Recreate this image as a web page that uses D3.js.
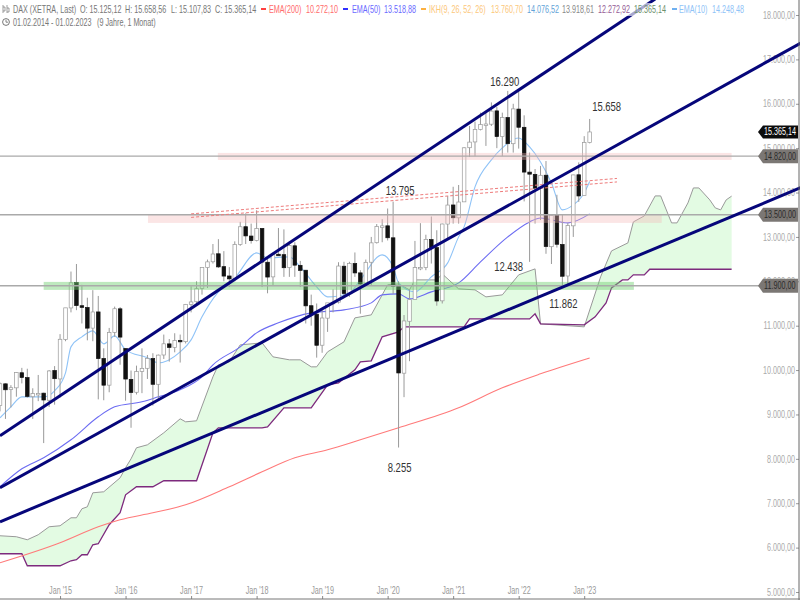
<!DOCTYPE html>
<html>
<head>
<meta charset="utf-8">
<script src="https://cdn.jsdelivr.net/npm/d3@7"></script>
<style>
html, body { margin: 0; padding: 0; background: #fff; }
svg { display: block; }
text { font-family: "Liberation Sans", Arial, sans-serif; }
</style>
</head>
<body>
<div class="interactive"></div>
<script>
var width = 800;
var height = 600;

// monthly candles, index 0 = Feb 2014
var opens = [9200,9690,9560,9600,9940,9830,9400,9470,9480,9320,9990,9800,
  10690,11400,11970,11450,11410,10945,11310,10260,9660,10850,11380,10485,
  9790,9500,9970,10040,10260,9680,10340,10590,10510,10670,10640,11480,
  11540,11840,12310,12440,12620,12330,12120,12060,12830,13230,13020,12920,
  13190,12430,12100,12610,12600,12310,12800,12360,12250,11450,11260,10560,
  11170,11520,11530,12340,11730,12400,12190,11940,12430,12870,13240,13250,
  12980,11900,9930,11100,11590,12310,12310,12940,12760,11560,13290,13720,
  13430,13790,15010,15140,15420,15530,15540,15840,15260,15690,15100,15880,
  15470,14460,14410,14100,14390,12780,13480,12830,12120,13250,14400,13930,15125];
var highs = [9720,9700,9660,9950,10050,10030,9590,9890,9490,10000,10090,10810,
  11400,12220,12390,11920,11630,11800,11670,10490,10950,11430,11420,10485,
  9990,10100,10490,10340,10380,10350,10800,10700,10830,10800,11490,11890,
  12000,12310,12490,12840,12950,12680,12320,12900,13340,13530,13300,13600,
  13200,12530,12650,13200,13170,12900,12880,12460,12250,11700,11500,11370,
  11500,11820,12430,12440,12440,12650,12250,12490,13000,13290,13400,13640,
  13795,12000,11240,11800,12910,13310,13050,13460,13150,13300,13920,14130,
  14170,15020,15500,15600,15800,15810,16030,15930,15800,16290,16000,16285,
  15740,14900,14530,14600,14710,13490,13950,13500,13310,14400,14680,15270,15658];
var lows = [9070,8900,9160,9400,9700,9380,8900,9300,8355,9170,9220,9380,
  10650,11300,11350,11050,10670,10650,9340,9320,9500,10750,10120,9310,
  8700,9450,9480,9800,9200,9370,10250,10190,10400,10170,10600,11300,
  11450,11700,11850,12400,12300,12000,11870,12000,12800,12840,12850,12900,
  11870,11730,11900,12600,12100,12100,12100,11870,11050,11000,10280,10390,
  10860,11300,11500,11620,11650,12100,11270,11900,11900,12850,12880,12920,
  11720,8255,9390,10200,11600,12250,12250,12400,11450,11500,12950,13300,
  13300,13800,14800,14820,15400,15050,15500,15000,14820,14900,14900,14990,
  13800,12438,13300,13380,12620,12390,12760,11862,11900,13000,13790,13980,15107];
var closes = [9692,9556,9603,9943,9833,9407,9470,9474,9326,9980,9806,10694,
  11402,11966,11454,11413,10945,11309,10259,9660,10850,11382,10743,9798,
  9495,9965,10039,10262,9680,10337,10592,10511,10665,10640,11481,11535,
  11834,12312,12438,12615,12325,12118,12055,12829,13229,13023,12918,13189,
  12435,12096,12612,12604,12306,12805,12364,12247,11447,11257,10559,11173,
  11515,11526,12344,11726,12398,12189,11939,12428,12866,13236,13249,12981,
  11890,9935,11107,11586,12310,12313,12945,12760,11556,13291,13718,13432,
  13786,15008,15136,15421,15531,15544,15835,15261,15688,15100,15885,15471,
  14461,14414,14098,14388,12784,13484,12835,12114,13254,14397,13923,15128,15365];

var ema200Idx = [0,11,18,22,28,34,42,48,54,60,66,73,84,92,99,108];
var ema200Val = [5659,6109,6470,6627,6785,6965,7371,7708,8024,8204,8429,8699,9150,9600,9915,10272];

var ema50Idx = [0,4,8,13,18,21,26,29,33,37,39,44,47,51,57,63,68,70,73,75,79,84,88,93,97,99,104,108];
var ema50Val = [7371,7776,8024,8429,8947,9172,9285,9397,9555,9848,10118,10523,10839,11064,11289,11357,11514,11694,11717,11604,11762,11965,12438,13001,13338,13428,13316,13519];

var ema10Idx = [0,2,4,8,10,12,13,15,17,19,21,23,27,29,33,35,37,40,43,47,49,53,55,58,60,64,66,70,72,73,76,79,82,84,85,87,90,92,95,97,99,101,103,105,107,108];
var ema10Val = [8924,9172,9397,9397,9532,9938,10523,10749,10884,10591,10771,10456,10276,10163,10411,10681,11199,11762,12077,12640,12528,12550,12325,11875,11649,11739,12032,12595,12325,11965,11762,12100,12415,13001,13226,14127,14735,15005,15230,15027,14690,14217,13609,13721,13991,14248];

var spanAIdx = [0,3,5,7,9,11,13,14,15,16,17,19,22,23,24,25,27,30,33,34,36,39,40,42,44,48,50,53,55,57,58,60,63,65,68,71,73,75,76,80,81,84,87,89,92,95,98,99,107,110,112,115,116,118,120,121,123,124,126,127,128,130,131,132,133,134];
var spanAVal = [6267,6245,6177,6290,6470,6492,6672,6672,6875,6920,7235,7258,7573,7798,8001,8249,8316,8587,8902,8834,8857,9848,10118,10186,10568,10613,10298,10231,10231,10073,10073,10411,10636,11176,11244,11920,11942,11807,12032,12032,12167,11830,11807,11649,11694,12145,12280,11041,10974,12100,12685,12865,13338,13473,13924,13924,13316,13316,13766,14104,14104,13834,13654,13609,13834,13919];

var spanBIdx = [0,4,5,11,13,14,15,16,17,18,20,22,23,25,28,30,36,39,40,48,49,52,57,60,62,65,66,68,70,73,74,85,86,97,98,99,107,109,111,112,114,115,116,118,119,134];
var spanBVal = [5862,5862,5591,5591,5704,5727,5839,5839,6064,6087,6515,6785,7190,7371,7371,7506,7506,8587,8699,8699,8722,9150,9150,9668,9713,10005,10186,10208,10749,10861,10974,10974,11154,11154,11267,11041,11019,11199,11514,11852,12032,12032,12145,12145,12272,12272];

// trend lines: [start idx, start value, end idx, end value]
var trendLines = [
  [0, 8519, 120, 18360],
  [0, 7348, 147, 17392],
  [0, 6582, 147, 14127]
];
var channelLines = [
  [35, 13519, 113, 14318],
  [35, 13440, 113, 14239]
];
// zones: [start idx, end idx, low value, high value]
var pinkZones = [
  [39.9, 134, 14735, 14892],
  [27.1, 121.2, 13316, 13496]
];
var greenZones = [[8, 116.1, 11807, 11987]];

var levels = [14820, 13500, 11900];
var lastClose = 15365.14;

var yTicks = [5000,6000,7000,8000,9000,10000,11000,12000,13000,14000,15000,16000,17000,18000];
var xTickIdx = [11,23,35,47,59,71,83,95,107];
var xTickLabels = ["Jan '15","Jan '16","Jan '17","Jan '18","Jan '19","Jan '20","Jan '21","Jan '22","Jan '23"];

var noteIdx = [93,108,72,97,103,73];
var noteVal = [16290,15658,13795,12438,11862,8255];
var noteText = ["16.290","15.658","13.795","12.438","11.862","8.255"];
var noteDx = [-3,17,7,-21,1,1];
var noteDy = [-9,-12,-11,5,17,20];

var de = d3.formatLocale({ decimal: ",", thousands: ".", grouping: [3], currency: ["", "€"] });
var fmt = de.format(",.2f");

var svg = d3.select(".interactive")
    .append("svg")
    .attr("width", width)
    .attr("height", height);

var x = d3.scaleLinear().domain([0, 147]).range([0, 802.6]);
var y = d3.scaleLinear().domain([5000, 18000]).range([592, 15]);

var line = d3.line().x(function(d){ return x(d[0]); }).y(function(d){ return y(d[1]); });
var smooth = d3.line().curve(d3.curveMonotoneX).x(function(d){ return x(d[0]); }).y(function(d){ return y(d[1]); });

function pairs(idx, val) { return idx.map(function(d, i){ return [d, val[i]]; }); }

// the source picture is squeezed sideways, so all text gets the same squeeze
var squeeze = 0.72;
function label(parent, px, py, str, color, size, anchor, sx) {
  return parent.append("text")
    .attr("transform", "translate(" + px + "," + py + ") scale(" + (sx || squeeze) + ",1)")
    .attr("fill", color)
    .attr("font-size", size || 10)
    .attr("text-anchor", anchor || "start")
    .text(str);
}

// axis labels go first, trend lines run across them
var yAxis = svg.append("g")
    .attr("transform", "translate(796,0)")
    .call(d3.axisRight(y).tickValues(yTicks).tickSize(3).tickFormat(fmt));
yAxis.select(".domain").remove();
yAxis.selectAll("line").attr("stroke", "#999");
yAxis.selectAll("text")
    .attr("x", 0)
    .attr("text-anchor", "end")
    .attr("fill", "#aaa")
    .attr("font-size", 10)
    .attr("font-family", "Liberation Sans")
    .attr("transform", "translate(-1,0) scale(" + squeeze + ",1)");

var xAxis = svg.append("g")
    .attr("transform", "translate(0,599)")
    .call(d3.axisTop(x).tickValues(xTickIdx).tickSize(3)
      .tickFormat(function(d, i){ return xTickLabels[i]; }));
xAxis.select(".domain").remove();
xAxis.selectAll("line").attr("stroke", "#888");
xAxis.selectAll("text")
    .attr("y", 0)
    .attr("dy", 0)
    .attr("fill", "#999")
    .attr("font-size", 10)
    .attr("font-family", "Liberation Sans")
    .attr("transform", "translate(0,-5) scale(" + squeeze + ",1)");

// ichimoku cloud
var spanA = pairs(spanAIdx, spanAVal);
var spanB = pairs(spanBIdx, spanBVal);
svg.append("path")
    .attr("d", line(spanA) + line(spanB.slice().reverse()).replace("M", "L") + "Z")
    .attr("fill", "#e3fbe3");
svg.append("path").attr("d", line(spanA)).attr("fill", "none").attr("stroke", "#999").attr("stroke-width", 1);
svg.append("path").attr("d", line(spanB)).attr("fill", "none").attr("stroke", "#7d2a7d").attr("stroke-width", 1.3);

// moving averages
[[ema200Idx, ema200Val, "#ff7a7a"], [ema50Idx, ema50Val, "#6c6cf2"], [ema10Idx, ema10Val, "#8fc3f7"]].forEach(function(s){
  svg.append("path")
    .attr("d", smooth(pairs(s[0], s[1])))
    .attr("fill", "none")
    .attr("stroke", s[2])
    .attr("stroke-width", 1.1);
});

// candles
var candles = svg.append("g").selectAll("g")
    .data(closes)
    .enter()
    .append("g");

candles.append("line")
    .attr("x1", function(d, i){ return x(i); })
    .attr("x2", function(d, i){ return x(i); })
    .attr("y1", function(d, i){ return y(highs[i]); })
    .attr("y2", function(d, i){ return y(lows[i]); })
    .attr("stroke", "#999")
    .attr("stroke-width", 1);

candles.append("rect")
    .attr("x", function(d, i){ return x(i) - 1.8; })
    .attr("width", 3.6)
    .attr("y", function(d, i){ return y(Math.max(opens[i], d)); })
    .attr("height", function(d, i){ return Math.max(1.5, Math.abs(y(opens[i]) - y(d))); })
    .attr("fill", function(d, i){ return d >= opens[i] ? "#fff" : "#111"; })
    .attr("stroke", function(d, i){ return d >= opens[i] ? "#999" : "#111"; })
    .attr("stroke-width", 0.7);

// support and resistance zones
function zones(data, color, opacity) {
  svg.append("g").selectAll("rect")
    .data(data)
    .enter()
    .append("rect")
    .attr("x", function(d){ return x(d[0]); })
    .attr("width", function(d){ return x(d[1]) - x(d[0]); })
    .attr("y", function(d){ return y(d[3]); })
    .attr("height", function(d){ return y(d[2]) - y(d[3]); })
    .attr("fill", color)
    .attr("opacity", opacity);
}
zones(pinkZones, "#f3b6b6", 0.36);
zones(greenZones, "#6fce6f", 0.45);

// horizontal levels
svg.append("g").selectAll("line")
    .data(levels)
    .enter()
    .append("line")
    .attr("x1", 0)
    .attr("x2", 760)
    .attr("y1", function(d){ return y(d); })
    .attr("y2", function(d){ return y(d); })
    .attr("stroke", "#aaa")
    .attr("stroke-width", 1.3);

// dashed red channel
svg.append("g").selectAll("path")
    .data(channelLines)
    .enter()
    .append("path")
    .attr("d", function(d){ return line([[d[0], d[1]], [d[2], d[3]]]); })
    .attr("fill", "none")
    .attr("stroke", "#ee7b7b")
    .attr("stroke-width", 1)
    .attr("stroke-dasharray", "3,2");

// trend lines
svg.append("g").selectAll("path")
    .data(trendLines)
    .enter()
    .append("path")
    .attr("d", function(d){ return line([[d[0], d[1]], [d[2], d[3]]]); })
    .attr("fill", "none")
    .attr("stroke", "#06067a")
    .attr("stroke-width", 3);

// value tags on the right
function tag(v, fill, color, h) {
  var py = y(v);
  svg.append("path")
    .attr("d", d3.line()([[758, py], [763, py - h / 2], [798, py - h / 2], [798, py + h / 2], [763, py + h / 2]]) + "Z")
    .attr("fill", fill);
  label(svg, 764, py + 3.5, fmt(v), color, 10);
}
levels.forEach(function(v){ tag(v, "#7b7774", "#2b2b2b", 14); });
tag(lastClose, "#0c0c0c", "#fff", 13);

// frame
svg.append("line").attr("x1", 799).attr("x2", 799).attr("y1", 0).attr("y2", 600).attr("stroke", "#666");
svg.append("line").attr("x1", 0).attr("x2", 800).attr("y1", 599).attr("y2", 599).attr("stroke", "#777");

// price notes
noteText.forEach(function(t, i){
  label(svg, x(noteIdx[i]) + noteDx[i], y(noteVal[i]) + noteDy[i] + 4, t, "#333", 12, "middle", 0.79);
});

// legend
svg.append("rect").attr("x", 0).attr("y", 3).attr("width", 750).attr("height", 13).attr("fill", "#fff").attr("opacity", 0.65);

var legendTop = [
  [13, "DAX (XETRA, Last)", "#777"],
  [80, "O: 15.125,12", "#777"],
  [125, "H: 15.658,56", "#777"],
  [171, "L: 15.107,83", "#777"],
  [215, "C: 15.365,14", "#777"],
  [269, "EMA(200)", "#ff6b6b"],
  [306, "10.272,10", "#ff6b6b"],
  [352, "EMA(50)", "#6a6aff"],
  [384, "13.518,88", "#6a6aff"],
  [429, "IKH(9, 26, 52, 26)", "#fcc77a"],
  [491, "13.760,70", "#fcc77a"],
  [527, "14.076,52", "#62a3d8"],
  [562, "13.918,61", "#888"],
  [598, "12.272,92", "#955c95"],
  [634, "15.365,14", "#6c8f6c"],
  [679, "EMA(10)", "#8fc3f7"],
  [712, "14.248,48", "#8fc3f7"]
];
legendTop.forEach(function(d){ label(svg, d[0], 12.5, d[1], d[2], 10); });

[[261, "#ff4040"], [343, "#3030ff"], [421, "#fcb040"], [672, "#6fb0f0"]].forEach(function(d){
  svg.append("rect").attr("x", d[0]).attr("y", 8).attr("width", 5).attr("height", 2).attr("fill", d[1]);
});

label(svg, 13, 25.5, "01.02.2014 - 01.02.2023", "#777", 10);
label(svg, 97, 25.5, "(9 Jahre, 1 Monat)", "#777", 10);

// header icons
svg.append("path").attr("d", "M3,5V13M3,7H5V11H3M7,5V13M7,8H9V12H7").attr("fill", "none").attr("stroke", "#777").attr("stroke-width", 0.7);
svg.append("circle").attr("cx", 6).attr("cy", 22).attr("r", 3.4).attr("fill", "none").attr("stroke", "#555").attr("stroke-width", 0.8);
svg.append("path").attr("d", "M6,19.8V22.2H8").attr("fill", "none").attr("stroke", "#555").attr("stroke-width", 0.7);
</script>
</body>
</html>
